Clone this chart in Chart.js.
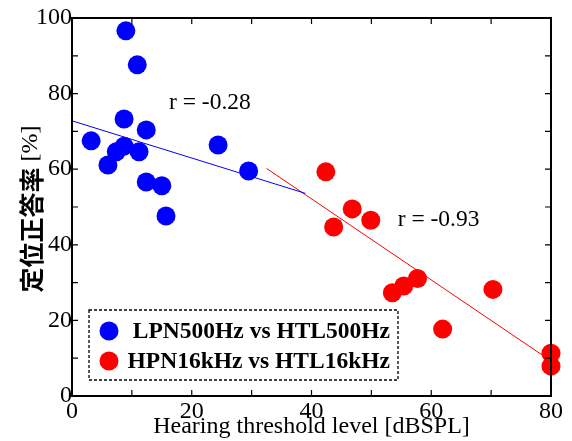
<!DOCTYPE html>
<html>
<head>
<meta charset="utf-8">
<script src="https://cdn.jsdelivr.net/npm/chart.js@4.4.1/dist/chart.umd.min.js"></script>
<style>
  html, body { margin: 0; padding: 0; background: #fff; }
  #wrap { width: 572px; height: 441px; }
</style>
</head>
<body>
<div id="wrap"><canvas id="myChart" width="572" height="441"></canvas></div>
<script>
// datos
const lowX  = [9.0, 10.9, 8.7, 12.4, 3.2, 24.4, 8.7, 7.4, 11.2, 6.0, 29.5, 12.4, 15.0, 15.7];
const lowY  = [96.6, 87.6, 73.3, 70.4, 67.5, 66.4, 66.1, 64.6, 64.6, 61.1, 59.5, 56.6, 55.6, 47.6];
const highX = [42.4, 46.8, 49.9, 43.7, 53.5, 55.4, 57.7, 70.3, 61.9, 80.0, 80.0];
const highY = [59.3, 49.5, 46.5, 44.7, 27.3, 29.1, 31.1, 28.2, 17.7, 11.3, 7.9];

// rectas de regresión (extremos)
const fitLowX  = [0, 39.0];
const fitLowY  = [72.8, 53.6];
const fitHighX = [32.5, 79.5];
const fitHighY = [60.2, 9.8];

const labelLow  = "LPN500Hz vs HTL500Hz";
const labelHigh = "HPN16kHz vs HTL16kHz";
const rLow  = "r = -0.28";
const rHigh = "r = -0.93";
const yTitleJa = "定位正答率";
const yTitleUnit = " [%]";

const xTicks = [0, 20, 40, 60, 80];
const yTicks = [0, 20, 40, 60, 80, 100];

const SERIF = "'Liberation Serif', 'Times New Roman', serif";
const pts = (xs, ys) => xs.map((x, i) => ({ x: x, y: ys[i] }));

// marco, ticks hacia dentro, textos r, título Y y leyenda
const decor = {
  id: "decor",
  afterDatasetsDraw(c) {
    const ctx = c.ctx, a = c.chartArea, sx = c.scales.x, sy = c.scales.y;
    ctx.save();
    ctx.strokeStyle = "#000";
    ctx.lineWidth = 2;
    ctx.strokeRect(a.left, a.top, a.right - a.left, a.bottom - a.top);
    ctx.lineWidth = 1.2;
    ctx.beginPath();
    for (let v = 10; v < 80; v += 10) {
      const px = sx.getPixelForValue(v);
      ctx.moveTo(px, a.bottom); ctx.lineTo(px, a.bottom - 6);
      ctx.moveTo(px, a.top); ctx.lineTo(px, a.top + 6);
    }
    for (let v = 10; v < 100; v += 10) {
      const py = sy.getPixelForValue(v);
      ctx.moveTo(a.left, py); ctx.lineTo(a.left + 6, py);
      ctx.moveTo(a.right, py); ctx.lineTo(a.right - 6, py);
    }
    ctx.stroke();

    // coeficientes
    ctx.fillStyle = "#000";
    ctx.font = "23.5px " + SERIF;
    ctx.textAlign = "left";
    ctx.textBaseline = "middle";
    ctx.fillText(rLow, sx.getPixelForValue(16.2), sy.getPixelForValue(77.5));
    ctx.fillText(rHigh, sx.getPixelForValue(54.4), sy.getPixelForValue(46.5));

    // título eje Y (japonés en negrita + unidad)
    ctx.save();
    ctx.translate(31, (a.top + a.bottom) / 2 + 2);
    ctx.rotate(-Math.PI / 2);
    const fJa = "bold 25px 'Noto Sans CJK JP', sans-serif";
    const fUn = "24px " + SERIF;
    ctx.font = fJa; const wJa = ctx.measureText(yTitleJa).width;
    ctx.font = fUn; const wUn = ctx.measureText(yTitleUnit).width;
    let x0 = -(wJa + wUn) / 2;
    ctx.textAlign = "left";
    ctx.font = fJa; ctx.fillText(yTitleJa, x0, 0);
    ctx.font = fUn; ctx.fillText(yTitleUnit, x0 + wJa, 0);
    ctx.restore();

    // leyenda
    const lx = a.left + 17, ly = a.top + 292, lw = 309, lh = 70;
    ctx.setLineDash([3, 2]);
    ctx.lineWidth = 1.3;
    ctx.strokeRect(lx, ly, lw, lh);
    ctx.setLineDash([]);
    const items = [[labelLow, "#0000ff"], [labelHigh, "#ff0000"]];
    ctx.font = "bold 23.5px " + SERIF;
    ctx.textAlign = "right";
    items.forEach((it, i) => {
      const cy = ly + 21 + i * 30;
      ctx.fillStyle = it[1];
      ctx.beginPath();
      ctx.arc(lx + 20, cy, 9.5, 0, Math.PI * 2);
      ctx.fill();
      ctx.fillStyle = "#000";
      ctx.fillText(it[0], lx + lw - 8, cy + 1);
    });
    ctx.restore();
  }
};

const ctx = document.getElementById("myChart").getContext("2d");
const chart = new Chart(ctx, {
  type: "scatter",
  data: {
    datasets: [
      { label: labelLow, data: pts(lowX, lowY), backgroundColor: "#0000ff", borderWidth: 0, pointRadius: 9.5, order: 1 },
      { label: labelHigh, data: pts(highX, highY), backgroundColor: "#ff0000", borderWidth: 0, pointRadius: 9.5, order: 1 },
      { type: "line", data: pts(fitLowX, fitLowY), borderColor: "#0000ff", borderWidth: 1, pointRadius: 0, order: 2 },
      { type: "line", data: pts(fitHighX, fitHighY), borderColor: "#ff0000", borderWidth: 1, pointRadius: 0, order: 2 }
    ]
  },
  options: {
    responsive: false,
    animation: false,
    clip: false,
    layout: { padding: { top: 18, right: 21, left: 2, bottom: 0 } },
    plugins: { legend: { display: false }, tooltip: { enabled: false } },
    scales: {
      x: {
        type: "linear", min: 0, max: 80,
        afterFit: s => { s.height = 45; },
        afterBuildTicks: s => { s.ticks = xTicks.map(v => ({ value: v })); },
        grid: { display: false, drawTicks: false },
        border: { display: false },
        ticks: { color: "#000", padding: 1, maxRotation: 0, font: { family: SERIF, size: 24 } },
        title: { display: true, text: "Hearing threshold level [dBSPL]", color: "#000",
                 padding: { top: 0, bottom: 0 }, font: { family: SERIF, size: 24 } }
      },
      y: {
        type: "linear", min: 0, max: 100,
        afterFit: s => { s.width = 70; },
        afterBuildTicks: s => { s.ticks = yTicks.map(v => ({ value: v })); },
        grid: { display: false, drawTicks: false },
        border: { display: false },
        ticks: { color: "#000", padding: 0, font: { family: SERIF, size: 24 } },
        title: { display: false }
      }
    }
  },
  plugins: [decor]
});
</script>
</body>
</html>
